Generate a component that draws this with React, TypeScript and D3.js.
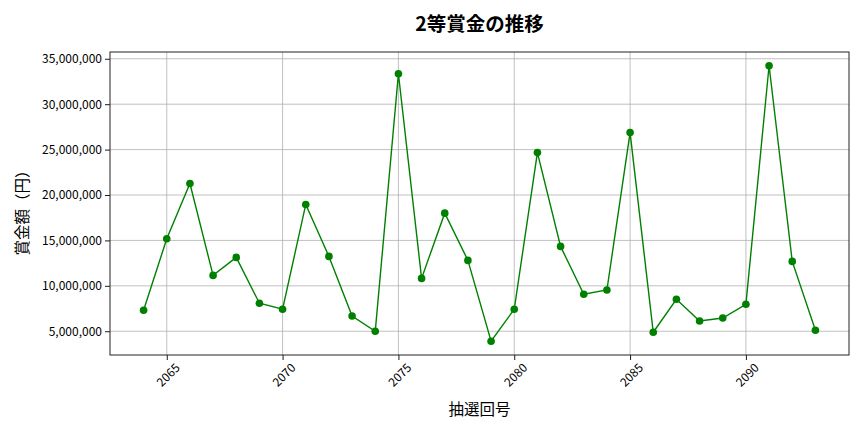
import React, { useEffect, useRef } from 'react';
import * as d3 from 'd3';

const draws = [
  2064, 2065, 2066, 2067, 2068, 2069, 2070, 2071, 2072, 2073,
  2074, 2075, 2076, 2077, 2078, 2079, 2080, 2081, 2082, 2083,
  2084, 2085, 2086, 2087, 2088, 2089, 2090, 2091, 2092, 2093,
];
const prizes = [
  7310000, 15180000, 21260000, 11150000, 13130000, 8080000, 7420000, 18960000, 13240000, 6680000,
  5000000, 33350000, 10820000, 18000000, 12800000, 3900000, 7420000, 24670000, 14340000, 9070000,
  9540000, 26870000, 4890000, 8520000, 6130000, 6460000, 7970000, 34230000, 12690000, 5110000,
];
const xTicks = [2065, 2070, 2075, 2080, 2085, 2090];
const yTicks = [5000000, 10000000, 15000000, 20000000, 25000000, 30000000, 35000000];

const title = '2等賞金の推移';
const xTitle = '抽選回号';
const yTitle = '賞金額（円）';

const FONT = '"Noto Sans CJK JP", "Noto Sans", sans-serif';

const App = () => {
  const svg = useRef(null);
  const width = 864;
  const height = 432;
  const plot = { left: 110, right: 849, top: 52, bottom: 355 };

  const renderChart = (root: any) => {
    root.selectAll('*').remove();
    const points = draws.map((d, i) => ({ draw: d, prize: prizes[i] }));

    const [x0, x1] = d3.extent(draws) as [number, number];
    const xpad = (x1 - x0) * 0.05;
    const xscale = d3.scaleLinear().domain([x0 - xpad, x1 + xpad]).range([plot.left, plot.right]);

    const [y0, y1] = d3.extent(prizes) as [number, number];
    const ypad = (y1 - y0) * 0.05;
    const yscale = d3.scaleLinear().domain([y0 - ypad, y1 + ypad]).range([plot.bottom, plot.top]);

    // grid
    const grid = root.append('g');
    grid.selectAll('.vg').data(xTicks).enter().append('line')
      .attr('x1', (d: number) => xscale(d)).attr('x2', (d: number) => xscale(d))
      .attr('y1', plot.top).attr('y2', plot.bottom)
      .attr('stroke', '#b0b0b0').attr('stroke-width', 0.8);
    grid.selectAll('.hg').data(yTicks).enter().append('line')
      .attr('y1', (d: number) => yscale(d)).attr('y2', (d: number) => yscale(d))
      .attr('x1', plot.left).attr('x2', plot.right)
      .attr('stroke', '#b0b0b0').attr('stroke-width', 0.8);

    // axes
    const xAxis = d3.axisBottom(xscale).tickValues(xTicks).tickFormat((d: any) => String(d)).tickSizeOuter(0).tickSize(5).tickPadding(4);
    const xg = root.append('g').attr('transform', `translate(0, ${plot.bottom})`).call(xAxis);
    xg.select('.domain').remove();
    xg.selectAll('line').attr('stroke', '#000').attr('stroke-width', 0.9);
    xg.selectAll('text')
      .attr('font-family', FONT).attr('font-size', 12).attr('fill', '#000')
      .attr('text-anchor', 'middle')
      .attr('transform', 'translate(1, 20) rotate(-45)')
      .attr('y', 0).attr('dy', '0.35em');

    const yAxis = d3.axisLeft(yscale).tickValues(yTicks).tickFormat(d3.format(',')).tickSizeOuter(0).tickSize(5).tickPadding(3);
    const yg = root.append('g').attr('transform', `translate(${plot.left}, 0)`).call(yAxis);
    yg.select('.domain').remove();
    yg.selectAll('line').attr('stroke', '#000').attr('stroke-width', 0.9);
    yg.selectAll('text').attr('font-family', FONT).attr('font-size', 12).attr('fill', '#000');

    // frame
    root.append('rect')
      .attr('x', plot.left).attr('y', plot.top)
      .attr('width', plot.right - plot.left).attr('height', plot.bottom - plot.top)
      .attr('fill', 'none').attr('stroke', '#222').attr('stroke-width', 1);

    // line + markers
    const line = d3.line<any>().x((d) => xscale(d.draw)).y((d) => yscale(d.prize));
    root.append('path').datum(points)
      .attr('d', line).attr('fill', 'none').attr('stroke', '#008000').attr('stroke-width', 1.4);
    root.append('g').selectAll('circle').data(points).enter().append('circle')
      .attr('cx', (d: any) => xscale(d.draw)).attr('cy', (d: any) => yscale(d.prize))
      .attr('r', 3.8).attr('fill', '#008000');

    // titles
    root.append('text')
      .attr('x', (plot.left + plot.right) / 2).attr('y', 31)
      .attr('text-anchor', 'middle').attr('font-family', FONT)
      .attr('font-size', 19.5).attr('font-weight', 'bold').attr('fill', '#000')
      .text(title);
    root.append('text')
      .attr('x', (plot.left + plot.right) / 2).attr('y', 415)
      .attr('text-anchor', 'middle').attr('font-family', FONT)
      .attr('font-size', 15.5).attr('fill', '#000')
      .text(xTitle);
    root.append('text')
      .attr('transform', `translate(28, 209) rotate(-90)`)
      .attr('text-anchor', 'middle').attr('font-family', FONT)
      .attr('font-size', 15.5).attr('fill', '#000')
      .text(yTitle);
  };

  useEffect(() => {
    renderChart(d3.select(svg.current));
  }, []);

  return (
    <svg
      ref={svg}
      width={width}
      height={height}
      style={{ position: 'absolute', left: 0, top: 0, background: '#fff' }}
    />
  );
};

export default App;
